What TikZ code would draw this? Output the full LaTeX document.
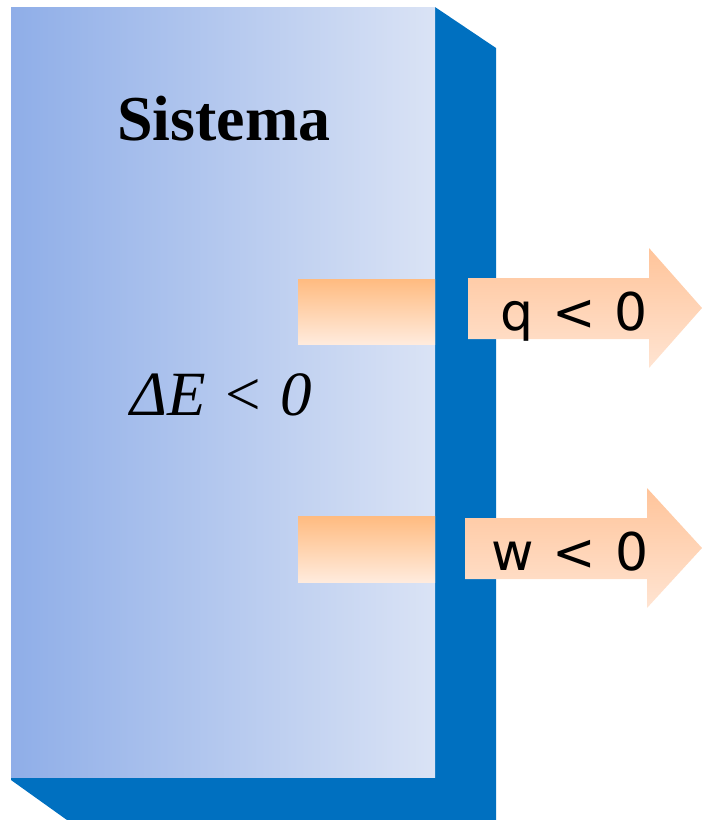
\documentclass[tikz,border=0pt]{standalone}
\usepackage{fontspec}
\setmainfont{Liberation Serif}
\newfontfamily\labfont{DejaVu Sans}
\definecolor{sideblue}{HTML}{0070C0}
\definecolor{faceL}{HTML}{8FAEE8}
\definecolor{faceR}{HTML}{DAE3F5}
\definecolor{orTop}{HTML}{FFBB80}
\definecolor{orBot}{HTML}{FFEBDD}
\definecolor{arTop}{HTML}{FFC49A}
\definecolor{arBot}{HTML}{FFE4D2}
\begin{document}
\begin{tikzpicture}[x=1pt,y=-1pt,
  stub/.style={top color=orTop,bottom color=orBot},
  outarrow/.style={top color=arTop,bottom color=arBot},
  lab/.style={font=\labfont\fontsize{52}{60}\selectfont,anchor=base,inner sep=0pt}]
\useasboundingbox (0,0) rectangle (702,820);
% blue side/back
\fill[sideblue] (435,7) -- (496,48) -- (496,820) -- (67,820) -- (11,780) -- (11,777) -- (435,777) -- cycle;
% front face
\shade[left color=faceL,right color=faceR] (11,7) rectangle (435,777);
% stubs
\shade[stub] (298,279) rectangle (435,344);
\shade[stub] (298,516) rectangle (435,582);
% outer arrows
\shade[outarrow] (468,278) -- (649,278) -- (649,248) -- (702,308) -- (649,368) -- (649,339) -- (468,339) -- cycle;
\shade[outarrow] (465,518) -- (647,518) -- (647,488) -- (702,548) -- (647,608) -- (647,579) -- (465,579) -- cycle;
% texts
\node[anchor=base,inner sep=0pt,font=\bfseries\fontsize{64}{70}\selectfont] (sis) at (224,140) {Sistema};
\node[anchor=base,inner sep=0pt,font=\itshape\fontsize{63}{70}\selectfont] (de) at (221,415) {ΔE < 0};
\node[lab] (q) at (574,330) {q\hspace{0.04em} < \hspace{0.04em}0};
\node[lab] (w) at (570,570) {w\hspace{0.04em} < \hspace{0.04em}0};
\end{tikzpicture}
\end{document}
